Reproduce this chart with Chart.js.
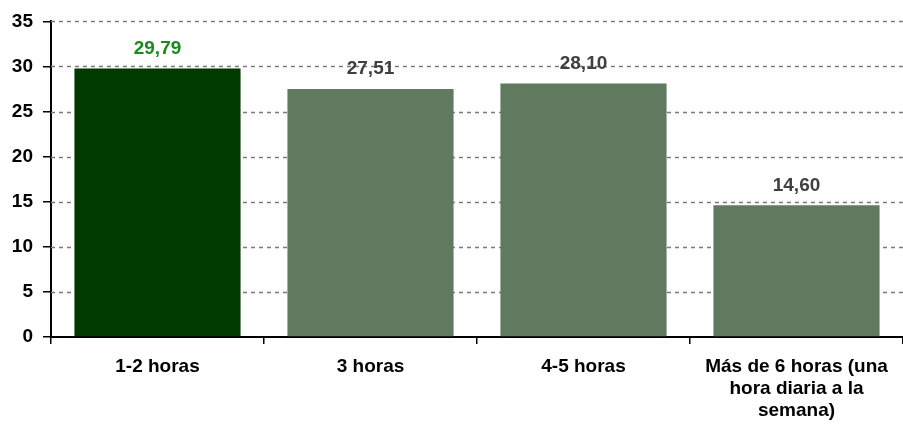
<!DOCTYPE html>
<html><head><meta charset="utf-8">
<script src="https://cdn.jsdelivr.net/npm/chart.js@4/dist/chart.umd.min.js"></script>
<style>html,body{margin:0;padding:0;background:#fff}#wrap{width:903px;height:424px}</style>
</head><body><div id="wrap"><canvas id="c"></canvas></div>
<script>
const categories = [["1-2 horas"], ["3 horas"], ["4-5 horas"], ["Más de 6 horas (una", "hora diaria a la", "semana)"]];
const values = [29.79, 27.51, 28.10, 14.60];
const valueLabels = ["29,79", "27,51", "28,10", "14,60"];
const barColors = ["#003a00", "#5f7a5f", "#5f7a5f", "#5f7a5f"];
const labelColors = ["#1a8a1a", "#404040", "#404040", "#404040"];
const yTicks = [0, 5, 10, 15, 20, 25, 30, 35];

const FONT = "'Liberation Sans', Arial, sans-serif";

const dashedGrid = {
  id: 'dashedGrid',
  beforeDatasetsDraw(chart) {
    const {ctx, chartArea, scales: {y}} = chart;
    ctx.save();
    ctx.strokeStyle = '#7a7a7a';
    ctx.lineWidth = 1.5;
    ctx.setLineDash([4, 4]);
    yTicks.forEach(t => {
      if (t === 0) return;
      const py = Math.round(y.getPixelForValue(t)) + 0.5;
      ctx.beginPath();
      ctx.moveTo(chartArea.left, py);
      ctx.lineTo(chartArea.right, py);
      ctx.stroke();
    });
    ctx.restore();
  }
};

const valueLabelPlugin = {
  id: 'valueLabels',
  afterDatasetsDraw(chart) {
    const {ctx} = chart;
    const meta = chart.getDatasetMeta(0);
    ctx.save();
    ctx.font = "bold 19px " + FONT;
    ctx.textAlign = 'center';
    ctx.textBaseline = 'middle';
    meta.data.forEach((bar, i) => {
      ctx.fillStyle = labelColors[i];
      ctx.fillText(valueLabels[i], bar.x, bar.y - 20);
    });
    ctx.restore();
  }
};

new Chart(document.getElementById('c'), {
  type: 'bar',
  data: {
    labels: categories,
    datasets: [{
      data: values,
      backgroundColor: barColors,
      borderWidth: 0,
      barPercentage: 0.78,
      categoryPercentage: 1.0
    }]
  },
  options: {
    responsive: true,
    maintainAspectRatio: false,
    animation: false,
    events: [],
    layout: {padding: {top: 3, right: 0, bottom: 0, left: 0}},
    plugins: {legend: {display: false}, tooltip: {enabled: false}},
    scales: {
      x: {
        offset: true,
        grid: {offset: true, drawOnChartArea: false, drawTicks: true, tickLength: 7, color: '#000', lineWidth: 1.5},
        border: {color: '#000', width: 2},
        ticks: {color: '#000', font: {family: FONT, size: 19, weight: 'bold', lineHeight: 1.16}, padding: 12, maxRotation: 0, autoSkip: false},
        afterFit(s) { s.height = 87; }
      },
      y: {
        min: 0, max: 35,
        afterBuildTicks(s) { s.ticks = yTicks.map(v => ({value: v})); },
        grid: {drawOnChartArea: false, drawTicks: true, tickLength: 8, color: '#000', lineWidth: 1.5},
        border: {color: '#000', width: 2},
        ticks: {color: '#000', font: {family: FONT, size: 19, weight: 'bold'}, padding: 10},
        afterFit(s) { s.width = 51; }
      }
    }
  },
  plugins: [dashedGrid, valueLabelPlugin]
});
</script>
</body></html>
